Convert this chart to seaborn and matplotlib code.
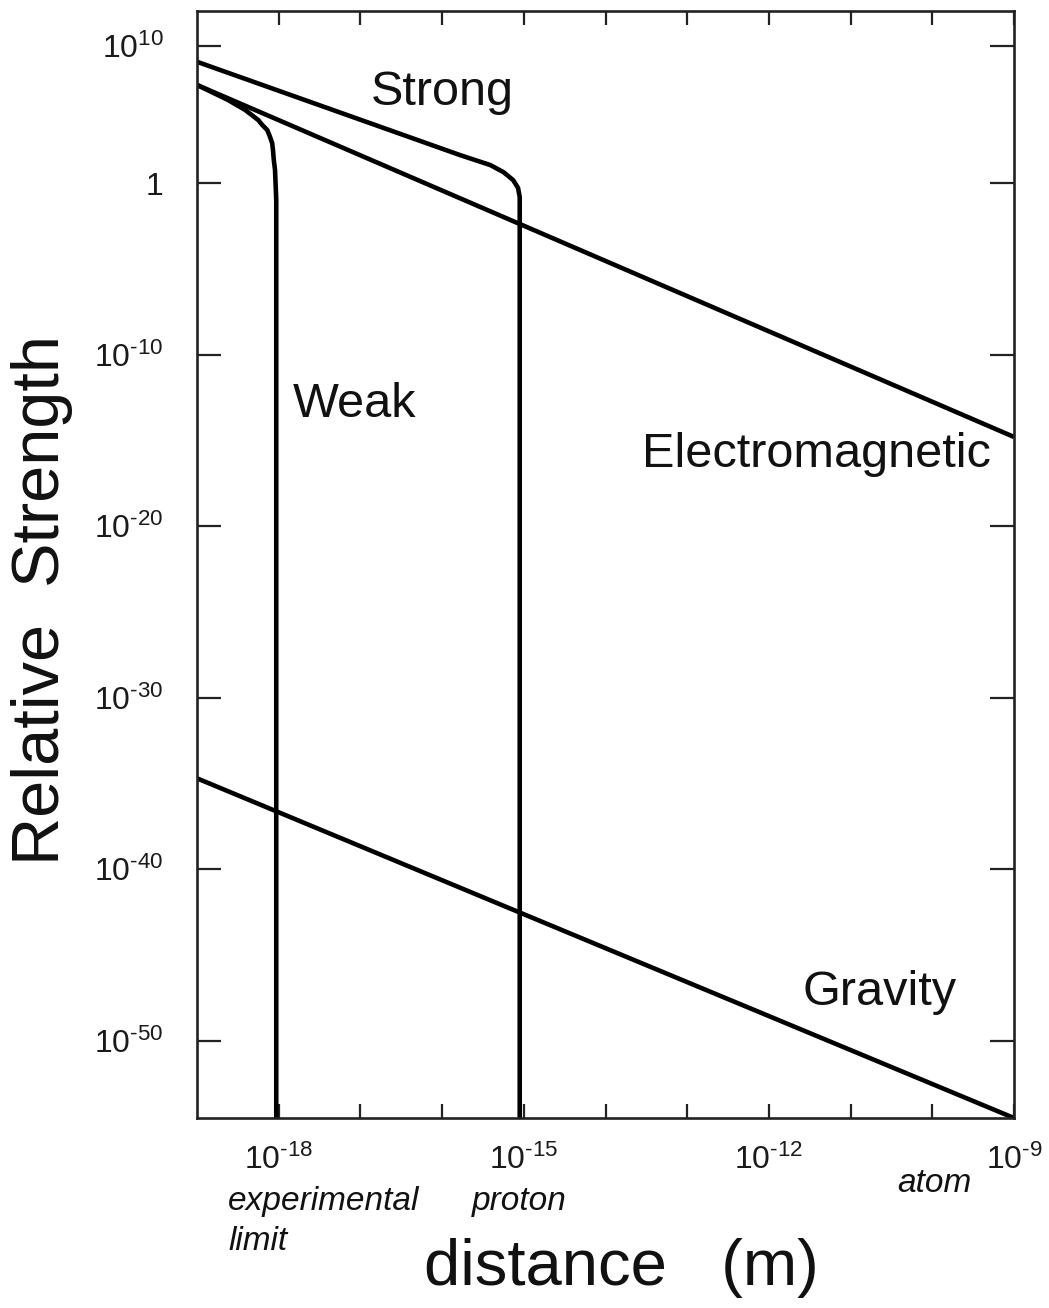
import numpy as np
import pandas as pd
import matplotlib
matplotlib.use("Agg")
import matplotlib.pyplot as plt
import seaborn as sns

# ---- data (log10 values) ----
em_logx = [-19.0, -9.0]
em_logy = [5.72, -14.8]

strong_logx = [-19.0, -15.78, -15.41, -15.25, -15.19, -15.13, -15.10, -15.07, -15.05, -15.05]
strong_logy = [7.07, 1.63, 1.05, 0.64, 0.41, 0.17, -0.06, -0.29, -0.82, -60.0]

weak_logx = [-19.0, -18.62, -18.41, -18.25, -18.20, -18.14, -18.11, -18.08, -18.07,
             -18.06, -18.045, -18.04, -18.03, -18.03]
weak_logy = [5.72, 4.84, 4.26, 3.67, 3.38, 3.09, 2.74, 2.33, 1.92,
             1.34, 0.76, 0.17, -0.99, -60.0]

gravity_logx = [-19.0, -9.0]
gravity_logy = [-34.7, -54.5]

x_tick_exp = [-18, -17, -16, -15, -14, -13, -12, -11, -10, -9]
x_tick_labels = ["$10^{\u2010 18}$", "", "", "$10^{\u2010 15}$", "", "",
                 "$10^{\u2010 12}$", "", "", "$10^{\u2010 9}$"]
y_tick_exp = [8, 0, -10, -20, -30, -40, -50]
y_tick_labels = ["$10^{10}$", "1", "$10^{\u2010 10}$", "$10^{\u2010 20}$",
                 "$10^{\u2010 30}$", "$10^{\u2010 40}$", "$10^{\u2010 50}$"]

sns.set_theme(style="white")
plt.rcParams["font.family"] = ["Liberation Sans", "DejaVu Sans"]
plt.rcParams["mathtext.fontset"] = "custom"
plt.rcParams["mathtext.rm"] = "Liberation Sans"
plt.rcParams["mathtext.it"] = "Liberation Sans:italic"
plt.rcParams["mathtext.bf"] = "Liberation Sans:bold"
plt.rcParams["mathtext.default"] = "rm"

fig = plt.figure(figsize=(10.49, 13.08), dpi=100)
fig.patch.set_facecolor("white")
ax = fig.add_axes([0.1878, 0.14526, 0.77884, 0.84633])
ax.set_facecolor("white")
ax.set_xscale("log")
ax.set_yscale("log")

def series(lx, ly, name):
    return pd.DataFrame({"distance": np.power(10.0, lx),
                         "strength": np.power(10.0, ly),
                         "force": name})

frames = [series(em_logx, em_logy, "Electromagnetic"),
          series(strong_logx, strong_logy, "Strong"),
          series(weak_logx, weak_logy, "Weak"),
          series(gravity_logx, gravity_logy, "Gravity")]
for df in frames:
    sns.lineplot(data=df, x="distance", y="strength", ax=ax, color="black",
                 linewidth=3.3, sort=False, estimator=None,
                 solid_joinstyle="round", solid_capstyle="butt", legend=False)

ax.set_xlim(1e-19, 1e-9)
ax.set_ylim(10 ** -54.5, 10 ** 10.03)

ax.xaxis.set_minor_locator(matplotlib.ticker.NullLocator())
ax.yaxis.set_minor_locator(matplotlib.ticker.NullLocator())
ax.set_xticks([10.0 ** e for e in x_tick_exp])
ax.set_xticklabels(x_tick_labels)
ax.set_yticks([10.0 ** e for e in y_tick_exp])
ax.set_yticklabels(y_tick_labels)

ax.tick_params(axis="x", which="both", direction="in", top=True, bottom=True,
               length=10, width=1.6, color="#222222", labelsize=23, pad=19,
               labelcolor="#1a1a1a")
ax.tick_params(axis="y", which="both", direction="in", left=True, right=True,
               length=17, width=1.6, color="#222222", labelsize=23, pad=24,
               labelcolor="#1a1a1a")
for s in ax.spines.values():
    s.set_linewidth(1.9)
    s.set_color("#222222")

ax.set_xlabel("distance   (m)", fontsize=47, color="#111111")
ax.xaxis.set_label_coords(0.52, -0.108)
ax.set_ylabel("Relative  Strength", fontsize=48, color="#111111")
ax.yaxis.set_label_coords(-0.152, 0.468)

# curve labels
txt = dict(transform=ax.transAxes, fontsize=35, color="#111111", va="baseline")
ax.text(0.300, 0.915, "Strong", ha="center", **txt)
ax.text(0.193, 0.633, "Weak", ha="center", **txt)
ax.text(0.758, 0.588, "Electromagnetic", ha="center", **txt)
ax.text(0.836, 0.102, "Gravity", ha="center", **txt)

itx = dict(transform=ax.transAxes, fontsize=24, color="#111111", va="baseline",
           style="italic", clip_on=False)
ax.text(0.038, -0.083, "experimental", ha="left", **itx)
ax.text(0.038, -0.119, "limit", ha="left", **itx)
ax.text(0.395, -0.083, "proton", ha="center", **itx)
ax.text(0.902, -0.067, "atom", ha="center", **itx)

fig.savefig("out.png", dpi=100)
